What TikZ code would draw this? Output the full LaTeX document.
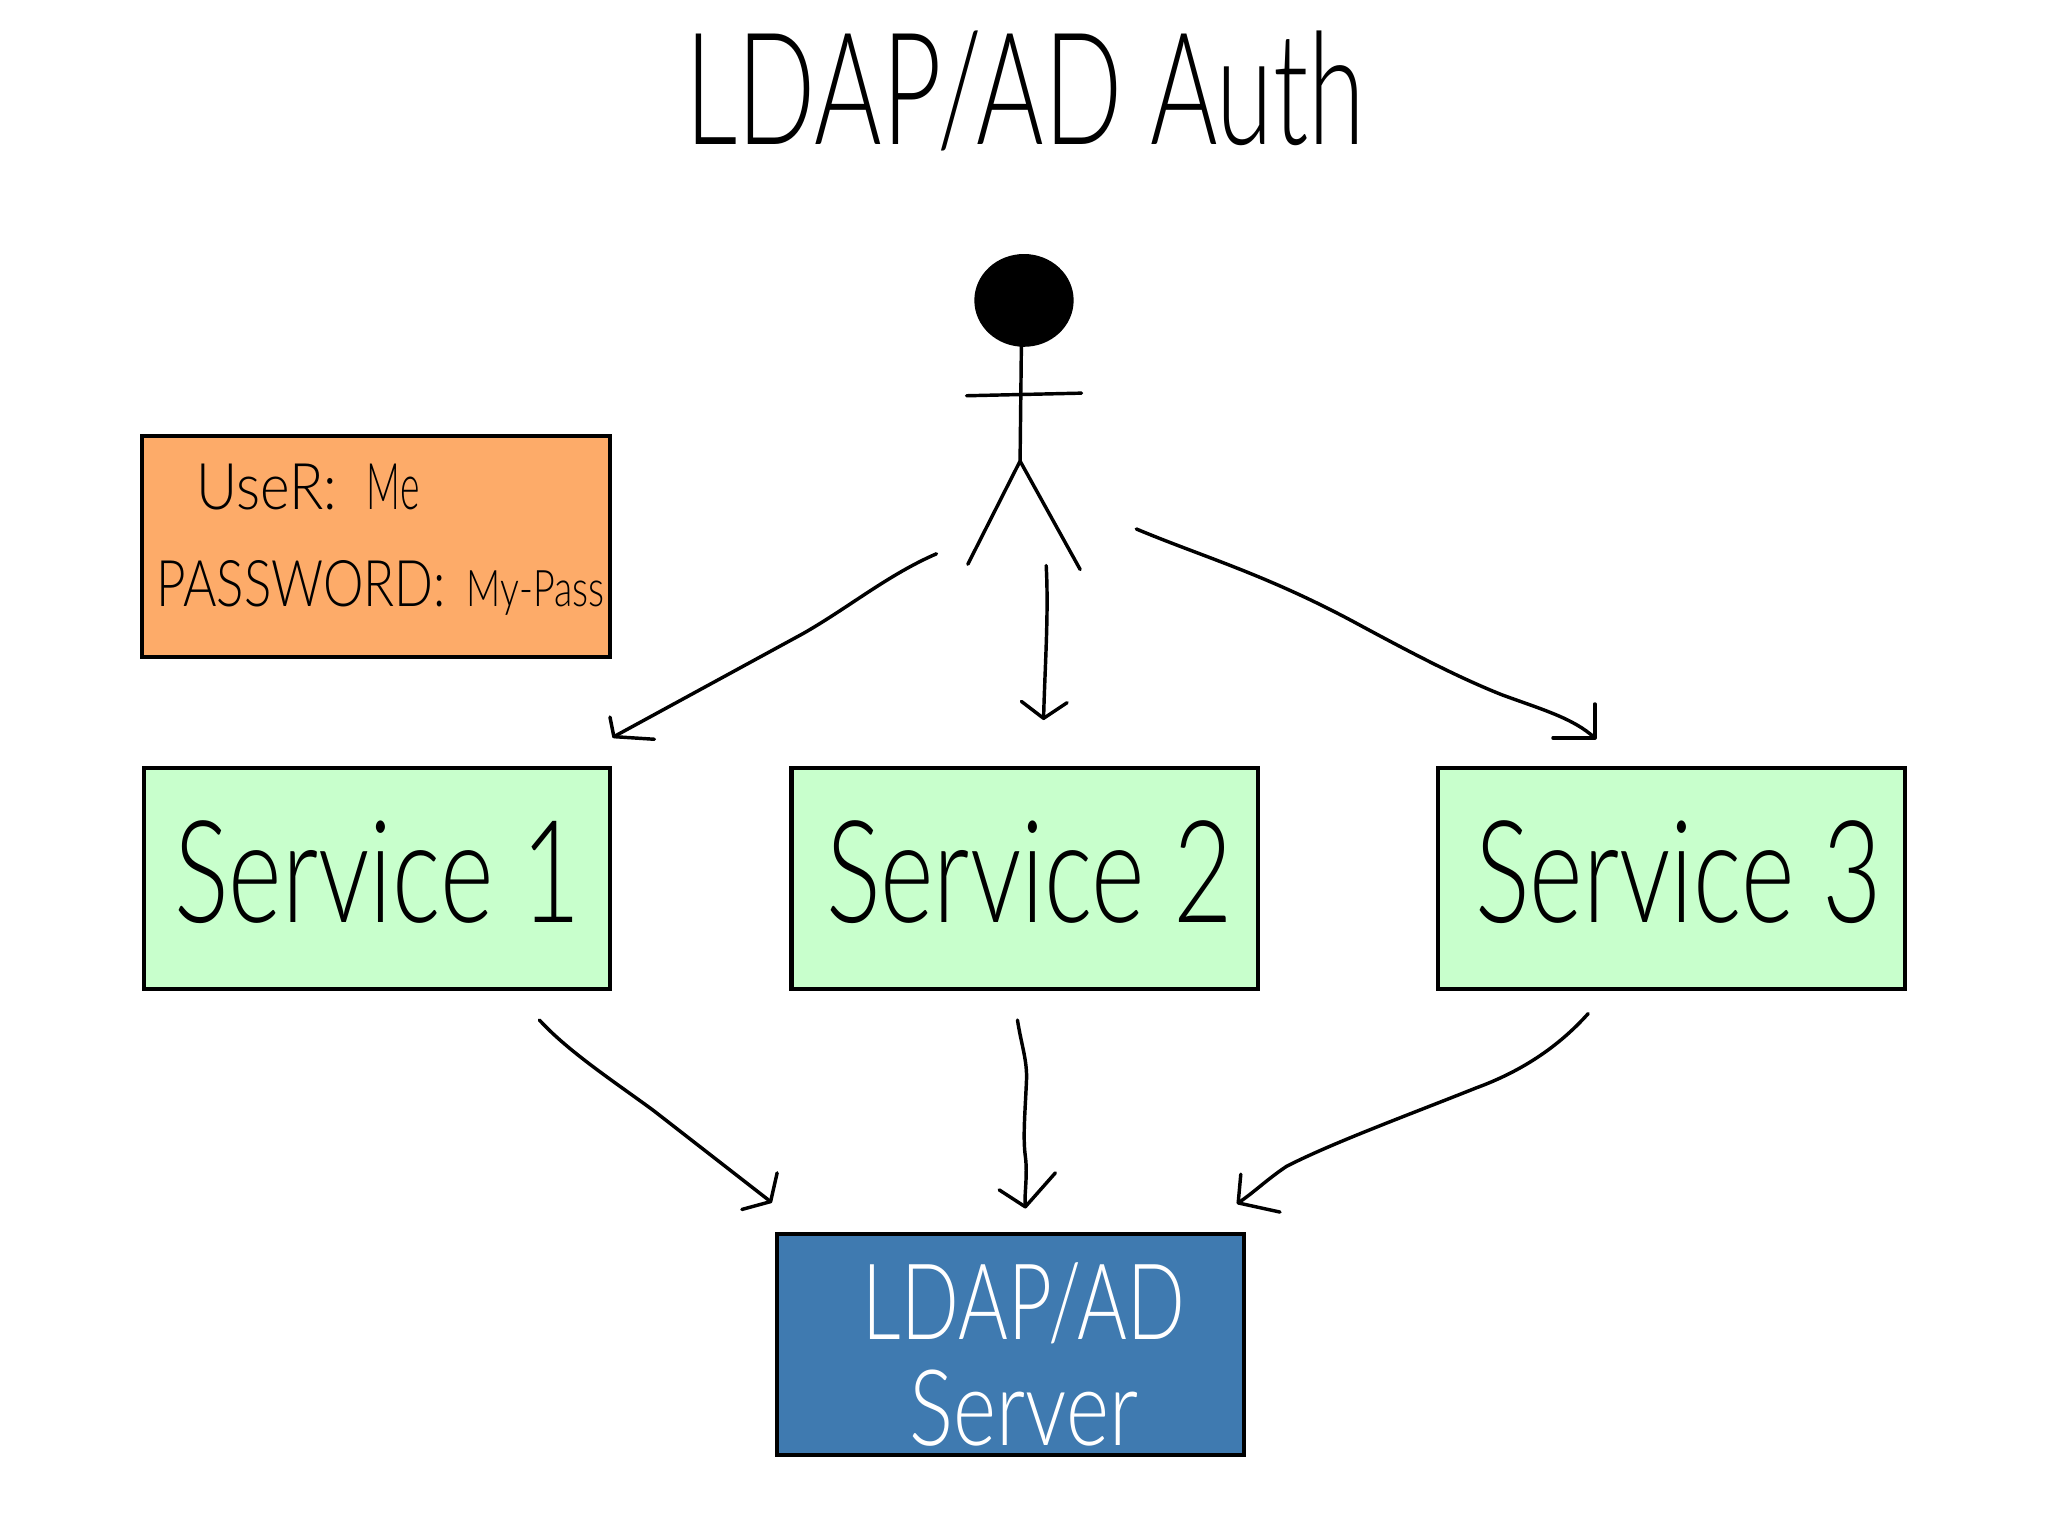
\documentclass[tikz,border=0pt]{standalone}
\usepackage{graphicx}
\usepackage{fontspec}
\setmainfont{Lato Light}
\usetikzlibrary{shapes.geometric}
\definecolor{svcfill}{HTML}{C8FFCC}
\definecolor{credfill}{HTML}{FDAB69}
\definecolor{ldapfill}{HTML}{3F7AB0}
\newcommand{\squeeze}[2]{\scalebox{#1}[1]{#2}}
\tikzset{
  x=0.01cm,y=-0.01cm,
  boxnode/.style={draw=black,line width=0.9pt,minimum width=3.57cm,minimum height=1.69cm,anchor=north west,inner sep=0pt,outer sep=0pt},
  service/.style={boxnode,fill=svcfill},
  svclabel/.style={inner sep=0pt,font=\fontsize{31}{32}\selectfont},
  hand/.style={line width=0.75pt,line cap=round,line join=round,black},
  headbarb/.style={hand}
}
\begin{document}
\begin{tikzpicture}
\useasboundingbox (0,0) rectangle (1568,1176);
\node[inner sep=0pt] (title) at (785,70) {\fontsize{34}{36}\selectfont\squeeze{0.66}{LDAP/AD Auth}};
% person
\node[draw=none,fill=black,ellipse,minimum width=0.76cm,minimum height=0.71cm,inner sep=0pt] (head) at (784,230) {};
\coordinate (neck) at (782,265);
\coordinate (hip) at (781,353);
\coordinate (armL) at (740,303);
\coordinate (armR) at (828,301);
\coordinate (legL) at (741,432);
\coordinate (legR) at (827,436);
\draw[hand] (neck) -- (hip) -- (legL);
\draw[hand] (hip) -- (legR);
\draw[hand] (armL) -- (armR);
% boxes
\node[boxnode,fill=credfill,minimum width=3.58cm] (cred) at (109,334) {};
\node[anchor=west,inner sep=0pt,font=\fontsize{14}{15}\selectfont] (userlabel) at (150,373) {\squeeze{0.88}{UseR:}\hspace{6.5pt}\squeeze{0.58}{Me}};
\node[anchor=west,font=\fontsize{14}{15}\selectfont,inner sep=0pt] (passlabel) at (119,450) {\squeeze{0.795}{PASSWORD:}\hspace{4.5pt}{\fontsize{11}{11}\selectfont\squeeze{0.745}{My-Pass}}};
\node[service] (s1) at (110,588) {};
\node[service] (s2) at (606,588) {};
\node[service] (s3) at (1101,588) {};
\node[svclabel] (s1t) at (289,668) {\squeeze{0.72}{Service 1}};
\node[svclabel] (s2t) at (788,668) {\squeeze{0.72}{Service 2}};
\node[svclabel] (s3t) at (1285,668) {\squeeze{0.72}{Service 3}};
\node[boxnode,fill=ldapfill] (ldap) at (595,945) {};
\node[text=white,align=center,inner sep=0pt,font=\fontsize{23}{23}\selectfont] (ldapt) at (784,1037) {\squeeze{0.72}{LDAP/AD}\\\squeeze{0.78}{Server}};
% connectors to services
\coordinate (a1s) at (717,424); \coordinate (a1t) at (470,564);
\coordinate (a1b1) at (467,549); \coordinate (a1b2) at (501,566);
\draw[hand] (a1s) .. controls (680,440) and (650,465) .. (615,485) -- (a1t);
\draw[headbarb] (a1b1) -- (a1t) -- (a1b2);
\coordinate (a2s) at (801,433); \coordinate (a2t) at (799,550);
\coordinate (a2b1) at (782,537); \coordinate (a2b2) at (817,538);
\draw[hand] (a2s) .. controls (803,470) and (800,510) .. (a2t);
\draw[headbarb] (a2b1) -- (a2t) -- (a2b2);
\coordinate (a3s) at (870,405); \coordinate (a3t) at (1221,565);
\coordinate (a3b1) at (1189,565); \coordinate (a3b2) at (1221,539);
\draw[hand] (a3s) .. controls (920,426) and (970,440) .. (1040,478) .. controls (1090,505) and (1120,520) .. (1150,532) .. controls (1180,543) and (1205,550) .. (a3t);
\draw[headbarb] (a3b1) -- (a3t) -- (a3b2);
% connectors to server
\coordinate (b1s) at (413,781); \coordinate (b1t) at (590,920);
\coordinate (b1b1) at (568,926); \coordinate (b1b2) at (595,898);
\draw[hand] (b1s) .. controls (435,805) and (470,828) .. (500,850) -- (b1t);
\draw[headbarb] (b1b1) -- (b1t) -- (b1b2);
\coordinate (b2s) at (779,781); \coordinate (b2t) at (785,924);
\coordinate (b2b1) at (765,911); \coordinate (b2b2) at (808,898);
\draw[hand] (b2s) .. controls (782,800) and (786,810) .. (786,825) .. controls (785,850) and (783,870) .. (785,885) .. controls (787,900) and (784,915) .. (b2t);
\draw[headbarb] (b2b1) -- (b2t) -- (b2b2);
\coordinate (b3s) at (1216,776); \coordinate (b3t) at (948,921);
\coordinate (b3b1) at (950,899); \coordinate (b3b2) at (980,928);
\draw[hand] (b3s) .. controls (1190,805) and (1160,822) .. (1130,833) .. controls (1080,853) and (1020,875) .. (985,893) .. controls (970,903) and (960,913) .. (b3t);
\draw[headbarb] (b3b1) -- (b3t) -- (b3b2);
\end{tikzpicture}
\end{document}
